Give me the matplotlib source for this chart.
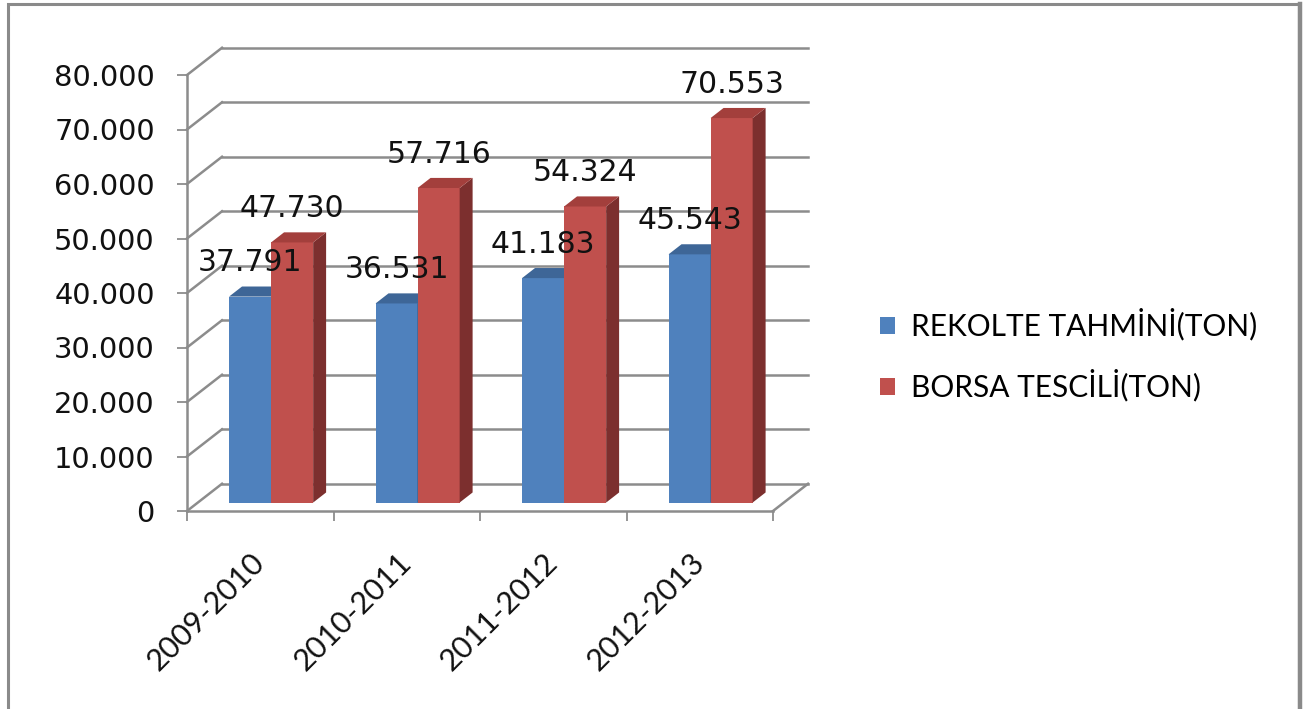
import numpy as np
import matplotlib
matplotlib.use('Agg')
import matplotlib.pyplot as plt
from matplotlib.patches import Polygon, Rectangle
from matplotlib.ticker import FuncFormatter

# Data
seasons = ['2009-2010', '2010-2011', '2011-2012', '2012-2013']
rekolte = [37791, 36531, 41183, 45543]
borsa = [47730, 57716, 54324, 70553]
series_names = ['REKOLTE TAHMİNİ(TON)', 'BORSA TESCİLİ(TON)']
y_ticks = list(range(0, 80001, 10000))

W, H = 1315, 709
fig = plt.figure(figsize=(W / 100, H / 100), dpi=100)

# outer chart frame
fig.patches.append(Rectangle((8 / W, -0.02), (1299 - 8) / W, 1 - 4 / H + 0.02,
                             transform=fig.transFigure, fill=False,
                             edgecolor='#8a8a8a', linewidth=2.2))
fig.add_artist(plt.Line2D([1299.5 / W, 1299.5 / W], [0, 1 - 4 / H],
                          transform=fig.transFigure, color='#8a8a8a', lw=3.2))

ax = fig.add_axes([187 / W, (H - 511) / H, (773 - 187) / W, (511 - 75) / H])
ax.set_xlim(0, len(seasons))
ax.set_ylim(0, 80000)
ax.patch.set_visible(False)

grid_col = '#8c8c8c'
# depth of the 3D wall (in data units)
wall_dx, wall_dy = 0.239, 5000
# bars sit in the middle of the depth
front_frac, depth_frac = 0.31, 0.37
bar_w = 0.287

# back wall gridlines + connectors
for v in y_ticks:
    ax.plot([wall_dx, len(seasons) + wall_dx], [v + wall_dy, v + wall_dy],
            color=grid_col, lw=1.8, clip_on=False, zorder=1)
    ax.plot([0, wall_dx], [v, v + wall_dy], color=grid_col, lw=1.8,
            clip_on=False, zorder=1)
ax.plot([len(seasons), len(seasons) + wall_dx], [0, wall_dy], color=grid_col,
        lw=1.8, clip_on=False, zorder=1)

colors = [('#4F81BD', '#3E6697', '#2F4D73'), ('#C0504D', '#A33F3C', '#7C2F2E')]
sdx, sdy = wall_dx * front_frac, wall_dy * front_frac
bdx, bdy = wall_dx * depth_frac, wall_dy * depth_frac

handles = []
for j, vals in enumerate([rekolte, borsa]):
    front, top, side = colors[j]
    lefts = np.arange(len(seasons)) + 0.5 + sdx + (j - 1) * bar_w
    bars = ax.bar(lefts, vals, width=bar_w, bottom=sdy, align='edge',
                  color=front, linewidth=0, zorder=3 + j * 2,
                  label=series_names[j], clip_on=False)
    handles.append(bars)
    for x0, v in zip(lefts, vals):
        x1 = x0 + bar_w
        t = sdy + v
        ax.add_patch(Polygon([(x1, sdy), (x1 + bdx, sdy + bdy), (x1 + bdx, t + bdy), (x1, t)],
                             closed=True, facecolor=side, lw=0, zorder=3 + j * 2, clip_on=False))
        ax.add_patch(Polygon([(x0, t), (x1, t), (x1 + bdx, t + bdy), (x0 + bdx, t + bdy)],
                             closed=True, facecolor=top, lw=0, zorder=3 + j * 2, clip_on=False))
        ax.annotate(f'{v:,}'.replace(',', '.'), (x0 + bar_w / 2, t),
                    xytext=(0, 34), textcoords='offset pixels',
                    ha='center', va='center', fontsize=21.5, color='#111111',
                    family='DejaVu Sans', zorder=10)

# axes
for s in ['top', 'right']:
    ax.spines[s].set_visible(False)
for s in ['left', 'bottom']:
    ax.spines[s].set_color(grid_col)
    ax.spines[s].set_linewidth(1.8)
    ax.spines[s].set_zorder(2)

ax.set_yticks(y_ticks)
ax.yaxis.set_major_formatter(FuncFormatter(lambda v, p: f'{int(v):,}'.replace(',', '.')))
ax.tick_params(axis='y', length=7.2, width=1.3, color=grid_col, pad=16,
               labelsize=20.8, labelcolor='#111111')

ax.set_xticks(range(len(seasons) + 1))
ax.set_xticklabels([])
ax.set_xticks(np.arange(len(seasons)) + 0.5, minor=True)
ax.set_xticklabels(seasons, minor=True, family='Lato', fontsize=22, color='#111111')
ax.tick_params(axis='x', which='major', length=7.2, width=1.3, color=grid_col)
ax.tick_params(axis='x', which='minor', length=0, pad=34)
plt.setp(ax.get_xticklabels(minor=True), rotation=45, ha='right', va='center',
         rotation_mode='anchor')

ax.legend(handles=handles, loc='center left', bbox_to_anchor=(865 / W, 1 - 355 / H),
          bbox_transform=fig.transFigure, frameon=False, prop={'family': 'Lato', 'size': 21.5},
          handlelength=0.5, handleheight=0.5, handletextpad=0.55, labelspacing=0.95,
          borderpad=0)

fig.savefig('out.png', dpi=100)
